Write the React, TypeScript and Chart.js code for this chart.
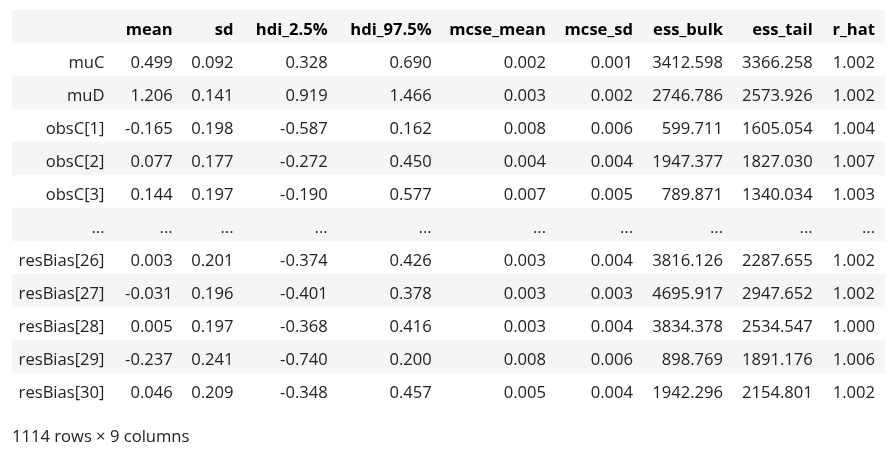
import React, { useEffect, useRef } from "react";
import { Chart, registerables } from "chart.js";

Chart.register(...registerables);

// ---- data ----
const columns = ["mean", "sd", "hdi_2.5%", "hdi_97.5%", "mcse_mean", "mcse_sd", "ess_bulk", "ess_tail", "r_hat"];
const rowLabels = ["muC", "muD", "obsC[1]", "obsC[2]", "obsC[3]", "...", "resBias[26]", "resBias[27]", "resBias[28]", "resBias[29]", "resBias[30]"];
const meanVals = [0.499, 1.206, -0.165, 0.077, 0.144, null, 0.003, -0.031, 0.005, -0.237, 0.046];
const sdVals = [0.092, 0.141, 0.198, 0.177, 0.197, null, 0.201, 0.196, 0.197, 0.241, 0.209];
const hdiLowVals = [0.328, 0.919, -0.587, -0.272, -0.19, null, -0.374, -0.401, -0.368, -0.74, -0.348];
const hdiHighVals = [0.69, 1.466, 0.162, 0.45, 0.577, null, 0.426, 0.378, 0.416, 0.2, 0.457];
const mcseMeanVals = [0.002, 0.003, 0.008, 0.004, 0.007, null, 0.003, 0.003, 0.003, 0.008, 0.005];
const mcseSdVals = [0.001, 0.002, 0.006, 0.004, 0.005, null, 0.004, 0.003, 0.004, 0.006, 0.004];
const essBulkVals = [3412.598, 2746.786, 599.711, 1947.377, 789.871, null, 3816.126, 4695.917, 3834.378, 898.769, 1942.296];
const essTailVals = [3366.258, 2573.926, 1605.054, 1827.03, 1340.034, null, 2287.655, 2947.652, 2534.547, 1891.176, 2154.801];
const rHatVals = [1.002, 1.002, 1.004, 1.007, 1.003, null, 1.002, 1.002, 1.0, 1.006, 1.002];
const footerText = "1114 rows × 9 columns";

const columnValues = [meanVals, sdVals, hdiLowVals, hdiHighVals, mcseMeanVals, mcseSdVals, essBulkVals, essTailVals, rHatVals];

// ---- layout ----
const W = 896;
const H = 457;
const indexRight = 104.5;
const colRight = [172.7, 233.5, 327.7, 431.7, 546, 633, 723, 812.7, 875];
const tableLeft = 12;
const tableRight = 884.5;
const FONT = '"Open Sans", "Noto Sans", sans-serif';
const FONT_SIZE = 16.6;

const fmt = (v: number | null) => (v === null ? "..." : v.toFixed(3));

const tablePlugin = {
  id: "tableText",
  afterDatasetsDraw(chart: any) {
    const ctx = chart.ctx as CanvasRenderingContext2D;
    const xs = chart.scales.x;
    const ys = chart.scales.y;
    ctx.save();
    ctx.textAlign = "right";
    ctx.textBaseline = "alphabetic";
    // header
    ctx.font = `bold ${FONT_SIZE}px ${FONT}`;
    ctx.fillStyle = "#000";
    const hy = ys.getPixelForValue(0) + 8;
    columns.forEach((c, j) => {
      ctx.fillText(c, xs.getPixelForValue(colRight[j]), hy);
    });
    // body
    ctx.font = `${FONT_SIZE}px ${FONT}`;
    ctx.fillStyle = "#222";
    rowLabels.forEach((lab, i) => {
      const y = ys.getPixelForValue(i + 1) + 8;
      ctx.fillText(lab, xs.getPixelForValue(indexRight), y);
      columnValues.forEach((vals, j) => {
        ctx.fillText(fmt(vals[i]), xs.getPixelForValue(colRight[j]), y);
      });
    });
    // footer
    ctx.textAlign = "left";
    ctx.fillText(footerText, xs.getPixelForValue(tableLeft), chart.chartArea.bottom + 36);
    ctx.restore();
  },
};

export default function App() {
  const ref = useRef<HTMLCanvasElement | null>(null);
  useEffect(() => {
    if (!ref.current) return;
    const labels = ["", ...rowLabels];
    const stripes = labels.map((_, i) => (i % 2 === 0 ? [tableLeft, tableRight] : null));
    const chart = new Chart(ref.current, {
      type: "bar",
      data: {
        labels,
        datasets: [
          {
            data: stripes as any,
            backgroundColor: "#f5f5f5",
            borderWidth: 0,
            barPercentage: 1,
            categoryPercentage: 1,
          },
        ],
      },
      options: {
        indexAxis: "y",
        animation: false,
        responsive: false,
        devicePixelRatio: 1,
        layout: { padding: { top: 10, bottom: 51, left: 0, right: 0 } },
        plugins: { legend: { display: false }, tooltip: { enabled: false }, title: { display: false } },
        scales: {
          x: { type: "linear", min: 0, max: W, display: false },
          y: { type: "category", display: false, offset: true, grid: { display: false } },
        },
      },
      plugins: [tablePlugin],
    });
    return () => chart.destroy();
  }, []);
  return (
    <div style={{ position: "absolute", left: 0, top: 0, width: W, height: H, background: "#fff" }}>
      <canvas ref={ref} width={W} height={H} style={{ width: W, height: H, display: "block" }} />
    </div>
  );
}
